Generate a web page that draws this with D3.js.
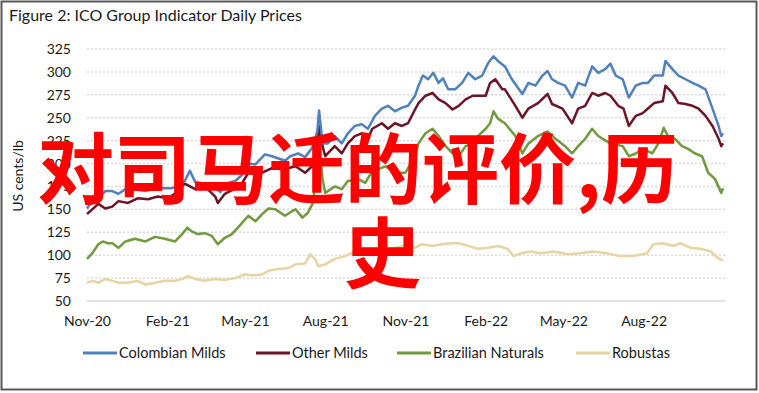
<!DOCTYPE html>
<html>
<head>
<meta charset="utf-8">
<script src="https://cdn.jsdelivr.net/npm/d3@7"></script>
<style>
  body { margin: 0; background: #fff; }
  text { font-family: Lato, "Open Sans", sans-serif; fill: #1a1a1a; }
</style>
</head>
<body>
<div id="chart"></div>
<script>
// values (US cents/lb)
var colombianMilds = [
  ["2020-11-01",151],["2020-11-07",159],["2020-11-14",162],["2020-11-22",170],["2020-11-30",170],["2020-12-07",167],
  ["2020-12-15",172],["2020-12-26",172],["2021-01-07",170],["2021-01-18",173],["2021-01-29",173],["2021-02-06",173],
  ["2021-02-13",176],["2021-02-21",181],["2021-02-27",192],["2021-03-05",180],["2021-03-16",178],["2021-03-28",173],
  ["2021-04-03",169],["2021-04-08",178],["2021-04-20",181],["2021-04-28",188],["2021-05-05",200],["2021-05-13",199],
  ["2021-05-24",210],["2021-06-01",208],["2021-06-16",203],["2021-06-22",208],["2021-07-01",211],["2021-07-09",207],
  ["2021-07-17",217],["2021-07-23",235],["2021-07-25",258],["2021-07-29",222],["2021-08-04",222],["2021-08-12",230],
  ["2021-08-20",222],["2021-08-27",233],["2021-09-04",241],["2021-09-12",243],["2021-09-19",238],["2021-09-27",252],
  ["2021-10-05",260],["2021-10-12",263],["2021-10-20",257],["2021-10-28",261],["2021-11-04",263],["2021-11-12",274],
  ["2021-11-16",285],["2021-11-21",296],["2021-11-27",292],["2021-12-03",299],["2021-12-09",288],["2021-12-14",293],
  ["2021-12-20",281],["2021-12-28",281],["2022-01-05",288],["2022-01-12",299],["2022-01-20",292],["2022-01-28",296],
  ["2022-02-04",310],["2022-02-10",317],["2022-02-15",312],["2022-02-23",306],["2022-03-03",292],["2022-03-15",276],
  ["2022-03-22",288],["2022-03-30",285],["2022-04-07",296],["2022-04-13",301],["2022-04-18",292],["2022-04-25",288],
  ["2022-05-03",285],["2022-05-11",272],["2022-05-18",288],["2022-05-26",285],["2022-06-03",306],["2022-06-10",299],
  ["2022-06-18",303],["2022-06-24",309],["2022-06-30",296],["2022-07-08",292],["2022-07-15",272],["2022-07-23",285],
  ["2022-07-31",288],["2022-08-06",288],["2022-08-13",296],["2022-08-23",296],["2022-08-26",312],["2022-09-03",303],
  ["2022-09-10",296],["2022-09-18",292],["2022-09-26",288],["2022-10-03",285],["2022-10-11",281],["2022-10-19",260],
  ["2022-10-26",241],["2022-10-29",230],["2022-10-31",233]
];

var otherMilds = [
  ["2020-11-01",145],["2020-11-07",150],["2020-11-14",156],["2020-11-22",151],["2020-11-30",153],["2020-12-07",159],
  ["2020-12-18",157],["2020-12-29",162],["2021-01-10",161],["2021-01-21",164],["2021-02-02",162],["2021-02-11",168],
  ["2021-02-21",178],["2021-03-05",172],["2021-03-16",175],["2021-03-28",164],["2021-03-31",157],["2021-04-08",167],
  ["2021-04-20",173],["2021-04-28",179],["2021-05-05",190],["2021-05-16",188],["2021-06-01",195],["2021-06-16",194],
  ["2021-06-28",197],["2021-07-09",190],["2021-07-17",197],["2021-07-23",219],["2021-07-25",241],["2021-07-29",219],
  ["2021-08-01",208],["2021-08-12",219],["2021-08-20",211],["2021-08-27",222],["2021-09-04",230],["2021-09-12",233],
  ["2021-09-19",227],["2021-09-24",238],["2021-10-05",244],["2021-10-12",238],["2021-10-20",244],["2021-10-28",241],
  ["2021-11-04",244],["2021-11-12",259],["2021-11-16",266],["2021-11-24",274],["2021-12-02",277],["2021-12-09",270],
  ["2021-12-17",266],["2021-12-25",259],["2022-01-01",263],["2022-01-09",270],["2022-01-17",274],["2022-01-23",274],
  ["2022-02-01",274],["2022-02-06",288],["2022-02-12",292],["2022-02-20",281],["2022-02-23",281],["2022-03-07",263],
  ["2022-03-15",250],["2022-03-22",260],["2022-04-02",266],["2022-04-13",276],["2022-04-18",265],["2022-04-30",260],
  ["2022-05-11",244],["2022-05-18",260],["2022-05-26",263],["2022-06-03",277],["2022-06-10",274],["2022-06-18",277],
  ["2022-06-24",274],["2022-07-03",263],["2022-07-09",260],["2022-07-15",241],["2022-07-23",252],["2022-07-31",255],
  ["2022-08-06",260],["2022-08-13",266],["2022-08-23",268],["2022-08-26",285],["2022-09-03",277],["2022-09-10",266],
  ["2022-09-18",265],["2022-09-26",263],["2022-10-03",260],["2022-10-11",252],["2022-10-19",241],["2022-10-26",227],
  ["2022-10-29",219],["2022-10-31",222]
];

var brazilianNaturals = [
  ["2020-11-01",96],["2020-11-07",102],["2020-11-14",112],["2020-11-19",115],["2020-11-25",113],["2020-11-30",113],
  ["2020-12-07",108],["2020-12-15",115],["2020-12-26",118],["2021-01-07",115],["2021-01-18",120],["2021-01-29",118],
  ["2021-02-10",115],["2021-02-18",123],["2021-02-24",130],["2021-03-01",126],["2021-03-08",123],["2021-03-16",124],
  ["2021-03-24",121],["2021-03-31",112],["2021-04-08",119],["2021-04-16",123],["2021-04-23",130],["2021-05-05",143],
  ["2021-05-13",137],["2021-05-21",145],["2021-05-28",151],["2021-06-05",150],["2021-06-16",143],["2021-06-24",148],
  ["2021-06-28",150],["2021-07-06",141],["2021-07-12",146],["2021-07-18",157],["2021-07-23",197],["2021-07-25",230],
  ["2021-07-29",183],["2021-08-01",168],["2021-08-12",175],["2021-08-20",172],["2021-08-27",181],["2021-09-08",183],
  ["2021-09-16",179],["2021-09-24",192],["2021-10-01",194],["2021-10-09",197],["2021-10-20",190],["2021-11-01",190],
  ["2021-11-12",208],["2021-11-16",222],["2021-11-24",233],["2021-12-02",238],["2021-12-09",230],["2021-12-17",219],
  ["2021-12-25",211],["2022-01-01",208],["2022-01-09",219],["2022-01-17",222],["2022-01-23",230],["2022-02-01",238],
  ["2022-02-06",244],["2022-02-10",257],["2022-02-15",249],["2022-02-23",244],["2022-03-07",230],["2022-03-15",211],
  ["2022-03-22",222],["2022-04-02",230],["2022-04-13",235],["2022-04-22",227],["2022-05-03",219],["2022-05-11",211],
  ["2022-05-18",219],["2022-05-26",227],["2022-06-03",238],["2022-06-10",230],["2022-06-15",227],["2022-06-24",222],
  ["2022-07-08",219],["2022-07-15",208],["2022-07-23",211],["2022-07-31",216],["2022-08-11",211],["2022-08-18",222],
  ["2022-08-24",239],["2022-08-29",230],["2022-09-06",227],["2022-09-14",219],["2022-09-21",216],["2022-09-29",211],
  ["2022-10-07",208],["2022-10-14",190],["2022-10-22",183],["2022-10-29",168],["2022-10-31",173]
];

var robustas = [
  ["2020-11-01",70],["2020-11-07",72],["2020-11-14",70],["2020-11-22",74],["2020-11-30",72],["2020-12-07",70],
  ["2020-12-18",70],["2020-12-29",72],["2021-01-07",68],["2021-01-18",70],["2021-01-29",72],["2021-02-10",72],
  ["2021-02-18",74],["2021-02-25",77],["2021-03-05",74],["2021-03-16",72],["2021-03-28",74],["2021-04-08",73],
  ["2021-04-20",75],["2021-05-01",79],["2021-05-09",78],["2021-05-21",79],["2021-05-28",83],["2021-06-08",85],
  ["2021-06-20",86],["2021-06-28",90],["2021-07-09",91],["2021-07-15",101],["2021-07-21",95],["2021-07-24",88],
  ["2021-08-01",90],["2021-08-12",96],["2021-08-24",99],["2021-09-04",104],["2021-09-16",104],["2021-09-27",107],
  ["2021-10-09",104],["2021-10-20",108],["2021-11-01",110],["2021-11-12",108],["2021-11-20",112],["2021-12-02",110],
  ["2021-12-13",112],["2021-12-25",113],["2022-01-01",113],["2022-01-12",110],["2022-01-23",107],["2022-02-04",108],
  ["2022-02-15",110],["2022-02-26",107],["2022-03-05",99],["2022-03-13",102],["2022-03-24",104],["2022-04-05",102],
  ["2022-04-20",104],["2022-05-06",101],["2022-05-20",102],["2022-06-04",104],["2022-06-20",102],["2022-07-05",99],
  ["2022-07-20",99],["2022-08-05",102],["2022-08-12",112],["2022-08-23",113],["2022-09-04",110],["2022-09-12",113],
  ["2022-09-24",108],["2022-10-05",107],["2022-10-17",104],["2022-10-25",97],["2022-10-31",94]
];

var seriesNames = ["Colombian Milds", "Other Milds", "Brazilian Naturals", "Robustas"];
var seriesColors = ["#4f81bd", "#6b1526", "#6f9a3d", "#e8d3a3"];
var yTicks = [50, 75, 100, 125, 150, 175, 200, 225, 250, 275, 300, 325];
var xTickDates = ["2020-11-01","2021-02-01","2021-05-01","2021-08-01","2021-11-01","2022-02-01","2022-05-01","2022-08-01"];
var xTickLabels = ["Nov-20","Feb-21","May-21","Aug-21","Nov-21","Feb-22","May-22","Aug-22"];
var overlayLines = ["对司马迁的评价,历", "史"];

var W = 759, H = 393;
var parse = d3.timeParse("%Y-%m-%d");

var svg = d3.select("#chart").append("svg")
    .attr("width", W)
    .attr("height", H);

svg.append("rect")
    .attr("x", 1.5).attr("y", 1.5)
    .attr("width", W - 4).attr("height", H - 5)
    .attr("fill", "#fff")
    .attr("stroke", "#595959")
    .attr("stroke-width", 2);

svg.append("text")
    .attr("x", 9).attr("y", 21)
    .style("font-size", "16px")
    .text("Figure 2: ICO Group Indicator Daily Prices");

var x = d3.scaleTime()
    .domain([parse("2020-11-01"), parse("2022-10-31")])
    .range([87, 723]);
var y = d3.scaleLinear()
    .domain([50, 325])
    .range([301, 49]);

// gridlines (dotted), baseline solid
svg.append("g").selectAll("line")
    .data(yTicks).enter()
    .append("line")
    .attr("x1", 87).attr("x2", 725)
    .attr("y1", function(d) { return y(d); })
    .attr("y2", function(d) { return y(d); })
    .attr("stroke", "#d9d9d9")
    .attr("stroke-width", 1.5)
    .attr("stroke-dasharray", function(d) { return d === 50 ? null : "2,2"; });

var yAxis = d3.axisLeft(y).tickValues(yTicks).tickSize(0).tickPadding(0);
svg.append("g")
    .attr("transform", "translate(71,0)")
    .call(yAxis)
    .call(function(g) { g.select(".domain").remove(); })
    .selectAll("text")
    .style("font-size", "14px")
    .style("font-family", "Lato, sans-serif")
    .attr("fill", "#1a1a1a");

var xAxis = d3.axisBottom(x)
    .tickValues(xTickDates.map(parse))
    .tickFormat(function(d, i) { return xTickLabels[i]; })
    .tickSize(0).tickPadding(0);
svg.append("g")
    .attr("transform", "translate(0,316)")
    .call(xAxis)
    .call(function(g) { g.select(".domain").remove(); })
    .selectAll("text")
    .style("font-size", "14px")
    .style("font-family", "Lato, sans-serif")
    .attr("fill", "#1a1a1a");

svg.append("text")
    .attr("transform", "translate(23,176) rotate(-90)")
    .attr("text-anchor", "middle")
    .style("font-size", "14px")
    .text("US cents/lb");

var line = d3.line()
    .x(function(d) { return x(parse(d[0])); })
    .y(function(d) { return y(d[1]); });

var allSeries = [colombianMilds, otherMilds, brazilianNaturals, robustas];
// draw robustas first so it's at the bottom, same as the source
svg.append("g").selectAll("path")
    .data(allSeries.slice().reverse()).enter()
    .append("path")
    .attr("d", line)
    .attr("fill", "none")
    .attr("stroke", function(d) { return seriesColors[allSeries.indexOf(d)]; })
    .attr("stroke-width", 2.5)
    .attr("stroke-linejoin", "round");

// legend
var legendX = [83, 256, 397, 576];
var legend = svg.append("g").selectAll("g")
    .data(seriesNames).enter()
    .append("g")
    .attr("transform", function(d, i) { return "translate(" + legendX[i] + ",353)"; });
legend.append("line")
    .attr("x1", 0).attr("x2", 34)
    .attr("stroke", function(d, i) { return seriesColors[i]; })
    .attr("stroke-width", 3);
legend.append("text")
    .attr("x", 36).attr("y", 5)
    .style("font-size", "14.5px")
    .text(function(d) { return d; });

// big red overlay text on top of everything
svg.append("g").selectAll("text")
    .data(overlayLines).enter()
    .append("text")
    .attr("x", function(d, i) { return i === 0 ? 37 : 344; })
    .attr("y", function(d, i) { return i === 0 ? 198 : 282; })
    .style("font-family", "'Noto Sans CJK SC', sans-serif")
    .style("font-weight", "700")
    .style("font-size", "77px")
    .style("fill", "#ff0000")
    .text(function(d) { return d; });
</script>
</body>
</html>
